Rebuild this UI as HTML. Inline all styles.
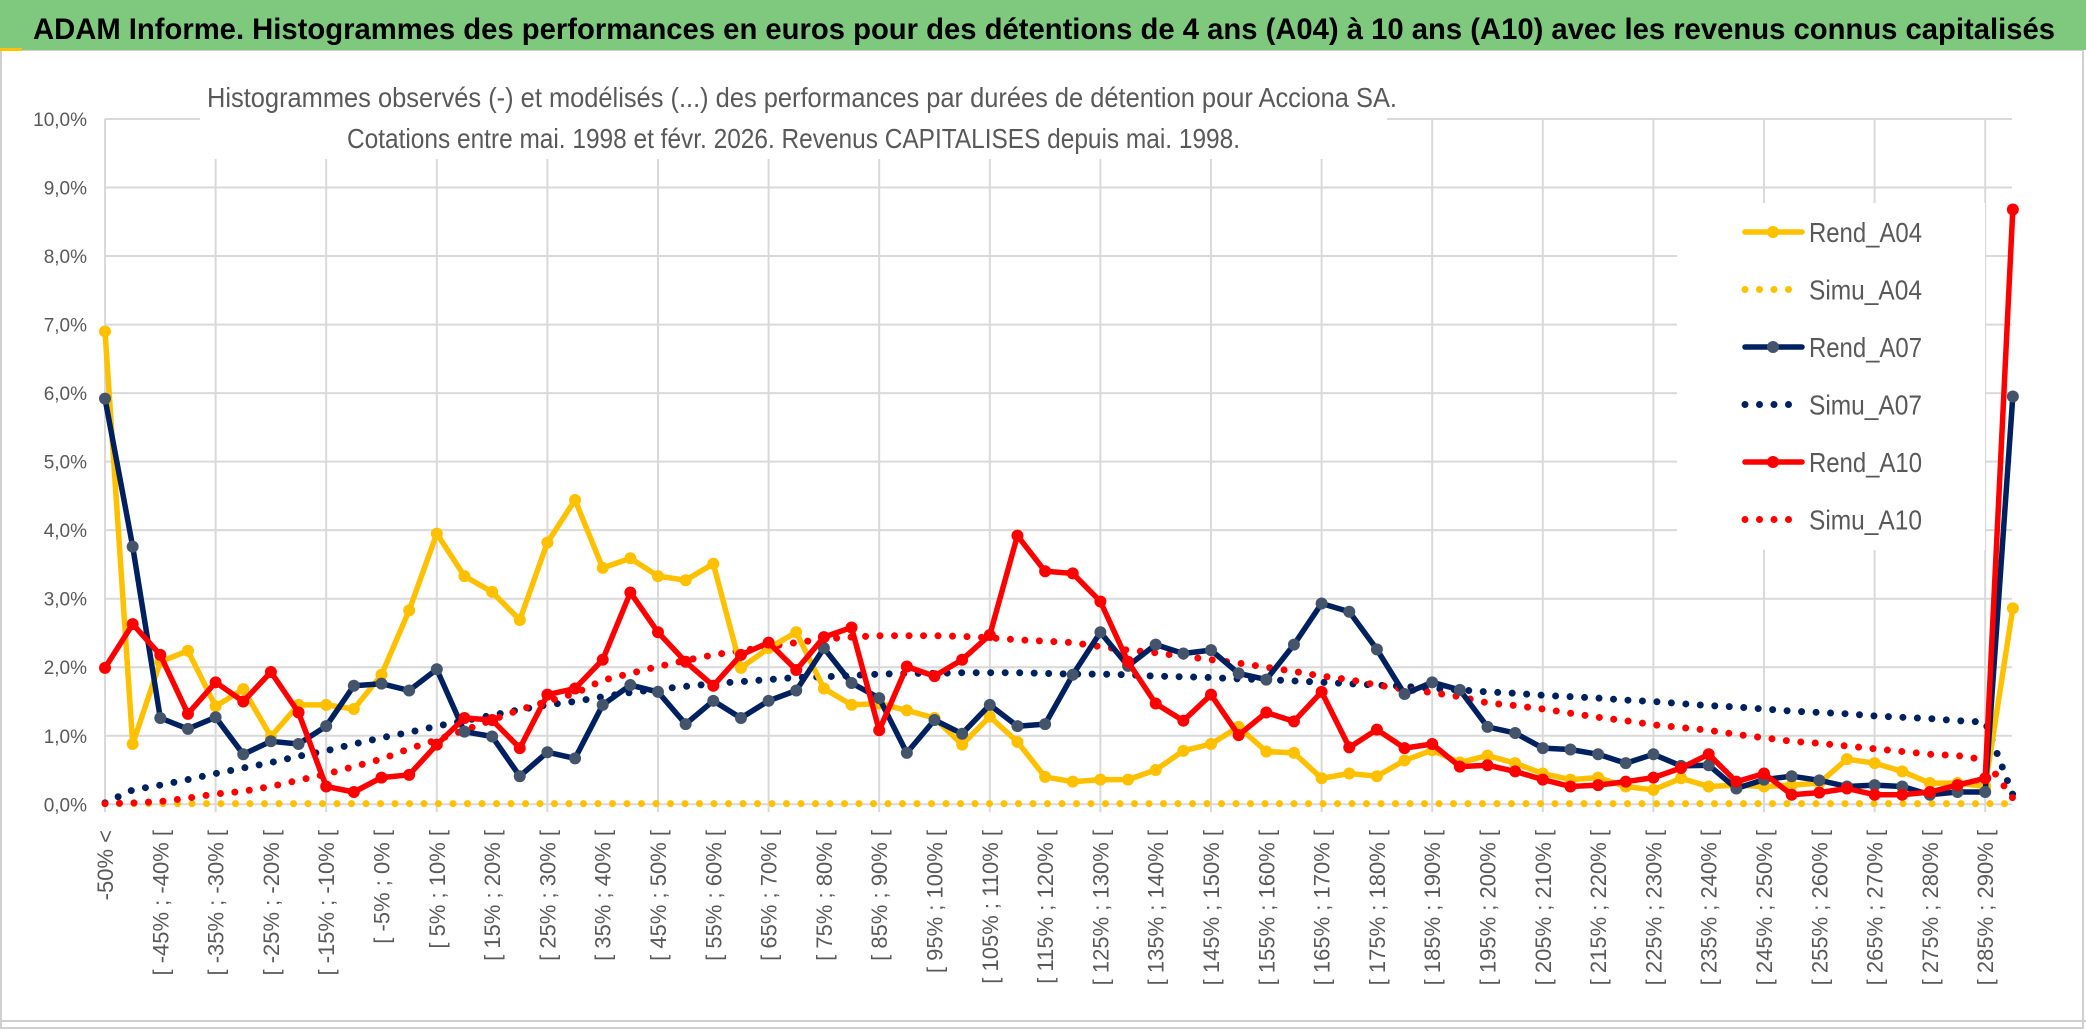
<!DOCTYPE html>
<html><head><meta charset="utf-8"><title>ADAM Informe - Acciona SA</title>
<style>
html,body{margin:0;padding:0;background:#fff;}
svg{display:block;font-family:"Liberation Sans",Arial,sans-serif;}
</style></head>
<body>
<svg id="chart" width="2086" height="1031" viewBox="0 0 2086 1031" xmlns="http://www.w3.org/2000/svg">
<rect x="1" y="50" width="2082" height="978" fill="#fff" stroke="#d0d0d0" stroke-width="2"/>
<line x1="0" y1="1021" x2="2086" y2="1021" stroke="#cfcfcf" stroke-width="2"/>
<rect x="0" y="0" width="2086" height="50" fill="#7ec97e"/>
<rect x="0" y="48" width="22" height="3" fill="#ffc000"/>
<text x="33" y="39" font-size="30" font-weight="bold" fill="#000" textLength="2022" lengthAdjust="spacingAndGlyphs">ADAM Informe. Histogrammes des performances en euros pour des détentions de 4 ans (A04) à 10 ans (A10) avec les revenus connus capitalisés</text>
<g id="grid"></g>
<rect x="200" y="60" width="1187" height="99" fill="#fff"/>
<text x="207" y="107" font-size="28" fill="#595959" textLength="1190" lengthAdjust="spacingAndGlyphs">Histogrammes observés (-) et modélisés (...) des performances par durées de détention pour Acciona SA.</text>
<text x="347" y="148" font-size="28" fill="#595959" textLength="893" lengthAdjust="spacingAndGlyphs">Cotations entre mai. 1998 et févr. 2026. Revenus CAPITALISES depuis mai. 1998.</text>
<g id="yaxis"></g>
<g id="xaxis"></g>
<g id="series"></g>
<rect x="1677" y="203" width="308" height="347" fill="#fff"/>
<g id="legend"></g>
</svg>
<script>
const rendA04 = [6.90,0.88,2.08,2.24,1.43,1.68,0.99,1.45,1.45,1.39,1.89,2.83,3.95,3.33,3.10,2.69,3.82,4.44,3.45,3.59,3.33,3.27,3.51,1.99,2.28,2.51,1.69,1.45,1.47,1.37,1.26,0.87,1.28,0.91,0.40,0.33,0.36,0.36,0.50,0.78,0.88,1.13,0.77,0.75,0.38,0.45,0.41,0.64,0.79,0.61,0.71,0.60,0.45,0.36,0.39,0.26,0.21,0.38,0.26,0.28,0.26,0.28,0.31,0.66,0.60,0.48,0.31,0.31,0.26,2.86];
const rendA07 = [5.92,3.76,1.26,1.10,1.27,0.73,0.92,0.88,1.14,1.73,1.76,1.66,1.97,1.06,0.99,0.41,0.76,0.67,1.45,1.74,1.64,1.17,1.51,1.26,1.51,1.66,2.28,1.77,1.55,0.75,1.23,1.03,1.45,1.14,1.17,1.89,2.51,2.02,2.33,2.20,2.25,1.91,1.82,2.33,2.93,2.81,2.26,1.61,1.78,1.67,1.13,1.04,0.82,0.80,0.73,0.60,0.73,0.56,0.57,0.23,0.36,0.41,0.35,0.26,0.28,0.26,0.14,0.18,0.18,5.95];
const rendA10 = [1.99,2.63,2.18,1.32,1.78,1.50,1.93,1.34,0.26,0.18,0.39,0.43,0.87,1.26,1.23,0.82,1.60,1.69,2.11,3.09,2.51,2.08,1.73,2.18,2.36,1.96,2.44,2.58,1.08,2.01,1.87,2.11,2.47,3.92,3.40,3.37,2.96,2.08,1.47,1.22,1.60,1.01,1.34,1.21,1.64,0.83,1.09,0.82,0.88,0.55,0.57,0.48,0.36,0.26,0.28,0.33,0.39,0.53,0.73,0.33,0.45,0.14,0.17,0.23,0.14,0.14,0.18,0.28,0.38,8.68];
const simuA04 = [0.01,0.01,0.01,0.01,0.01,0.01,0.01,0.01,0.01,0.01,0.01,0.01,0.01,0.01,0.01,0.01,0.01,0.01,0.01,0.01,0.01,0.01,0.01,0.01,0.01,0.01,0.01,0.01,0.01,0.01,0.01,0.01,0.01,0.01,0.01,0.01,0.01,0.01,0.01,0.01,0.01,0.01,0.01,0.01,0.01,0.01,0.01,0.01,0.01,0.01,0.01,0.01,0.01,0.01,0.01,0.01,0.01,0.01,0.01,0.01,0.01,0.01,0.01,0.01,0.01,0.01,0.01,0.01,0.01,0.01];
const simuA07 = [0.02,0.21,0.28,0.36,0.45,0.53,0.61,0.70,0.78,0.88,0.97,1.05,1.14,1.22,1.30,1.38,1.45,1.50,1.57,1.63,1.68,1.72,1.76,1.79,1.82,1.85,1.86,1.88,1.90,1.91,1.91,1.92,1.92,1.92,1.91,1.90,1.90,1.89,1.87,1.86,1.85,1.83,1.82,1.80,1.78,1.76,1.74,1.72,1.69,1.67,1.64,1.62,1.59,1.57,1.55,1.52,1.50,1.47,1.44,1.42,1.39,1.36,1.34,1.32,1.29,1.27,1.25,1.22,1.20,0.14];
const simuA10 = [0.01,0.02,0.04,0.09,0.15,0.19,0.26,0.35,0.44,0.55,0.66,0.81,0.94,1.08,1.23,1.38,1.50,1.62,1.81,1.91,2.01,2.10,2.18,2.24,2.30,2.36,2.41,2.44,2.46,2.46,2.46,2.45,2.43,2.40,2.38,2.36,2.30,2.25,2.21,2.16,2.11,2.06,2.00,1.94,1.87,1.82,1.74,1.68,1.63,1.57,1.48,1.44,1.39,1.33,1.27,1.22,1.16,1.12,1.08,1.02,0.97,0.92,0.89,0.85,0.81,0.77,0.73,0.71,0.65,0.09];
const yTicks = [0,1,2,3,4,5,6,7,8,9,10];
const yTickLabels = ["0,0%","1,0%","2,0%","3,0%","4,0%","5,0%","6,0%","7,0%","8,0%","9,0%","10,0%"];
const seriesNames = ["Rend_A04","Simu_A04","Rend_A07","Simu_A07","Rend_A10","Simu_A10"];

const NS = "http://www.w3.org/2000/svg";
const N = rendA04.length;
const categories = [];
for (let i = 0; i < N; i++) {
  if (i === 0) categories.push("-50% <");
  else if (i === N - 1) categories.push("> 290%");
  else categories.push("[ " + (-55 + 5 * i) + "% ; " + (-50 + 5 * i) + "% [");
}
const X0 = 105, STEP = 27.65, Y0 = 804.3, YU = 68.53, XR = 2012;
const xPos = i => X0 + i * STEP;
const yPos = v => Y0 - v * YU;
function mk(tag, attrs, parent) {
  const e = document.createElementNS(NS, tag);
  for (const k in attrs) e.setAttribute(k, attrs[k]);
  parent.appendChild(e);
  return e;
}
const grid = document.getElementById('grid');
yTicks.forEach((t, k) => {
  const ln = mk('line', {x1: X0, x2: XR, y1: yPos(t), y2: yPos(t), stroke: '#d9d9d9', 'stroke-width': 2}, grid);
  
  
});
for (let i = 0; i < N; i += 4) {
  const ln = mk('line', {x1: xPos(i), x2: xPos(i), y1: yPos(10), y2: Y0 + 8, stroke: '#d9d9d9', 'stroke-width': 2}, grid);
  
  
}
const yaxis = document.getElementById('yaxis');
yTicks.forEach((t, k) => {
  const tx = mk('text', {x: 87, y: yPos(t) + 7, 'text-anchor': 'end', 'font-size': 19, fill: '#595959'}, yaxis);
  tx.textContent = yTickLabels[k];
  
  
});
const xaxis = document.getElementById('xaxis');
for (let i = 0; i < N - 1; i += 2) {
  const x = xPos(i) + 8, y = 830;
  const tx = mk('text', {x: x, y: y, 'text-anchor': 'end', 'font-size': 22, fill: '#595959', transform: 'rotate(-90 ' + x + ' ' + y + ')'}, xaxis);
  tx.textContent = categories[i];
  
  
}
const ser = document.getElementById('series');
function pts(arr) { return arr.map((v, i) => xPos(i).toFixed(1) + ',' + yPos(v).toFixed(1)).join(' '); }
function dotted(arr, color, name) {
  const p = mk('polyline', {points: pts(arr), fill: 'none', stroke: color, 'stroke-width': 7, 'stroke-linecap': 'round', 'stroke-dasharray': '0 14.5'}, ser);
  
  
}
function solid(arr, color, mcolor, name) {
  const g = mk('g', {}, ser);
  
  
  mk('polyline', {points: pts(arr), fill: 'none', stroke: color, 'stroke-width': 5.5, 'stroke-linejoin': 'round'}, g);
  arr.forEach((v, i) => {
    const c = mk('circle', {cx: xPos(i), cy: yPos(v), r: 6, fill: mcolor}, g);
    
    
  });
}
dotted(simuA04, '#ffc000', 'simu-a04-line');
dotted(simuA07, '#002060', 'simu-a07-line');
dotted(simuA10, '#ff0000', 'simu-a10-line');
solid(rendA04, '#ffc000', '#ffc000', 'rend-a04-line');
solid(rendA07, '#002060', '#44546a', 'rend-a07-line');
solid(rendA10, '#ff0000', '#ff0000', 'rend-a10-line');

const legend = document.getElementById('legend');
const legColors = ['#ffc000','#ffc000','#002060','#002060','#ff0000','#ff0000'];
const legMark = ['#ffc000',null,'#44546a',null,'#ff0000',null];
seriesNames.forEach((nm, k) => {
  const y = 232 + k * 57.5;
  const g = mk('g', {}, legend);
  
  
  if (legMark[k]) {
    mk('line', {x1: 1745, x2: 1802, y1: y, y2: y, stroke: legColors[k], 'stroke-width': 5.5, 'stroke-linecap': 'round'}, g);
    mk('circle', {cx: 1773, cy: y, r: 6, fill: legMark[k]}, g);
  } else {
    mk('line', {x1: 1745, x2: 1802, y1: y, y2: y, stroke: legColors[k], 'stroke-width': 7, 'stroke-linecap': 'round', 'stroke-dasharray': '0 14.5'}, g);
  }
  const t = mk('text', {x: 1809, y: y + 10, 'font-size': 28, fill: '#595959', textLength: 113, lengthAdjust: 'spacingAndGlyphs'}, g);
  t.textContent = nm;
});
</script>
</body></html>
